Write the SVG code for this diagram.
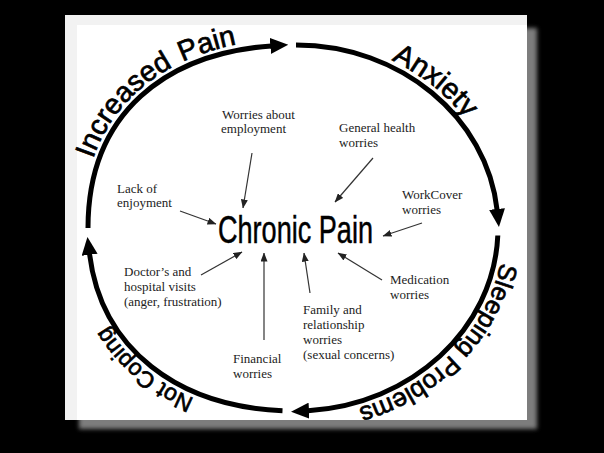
<svg xmlns="http://www.w3.org/2000/svg" width="604" height="453" viewBox="0 0 604 453">
<defs>
<style>
.lbl{font-family:"Liberation Serif","Times New Roman",serif;font-size:13px;fill:#222}
.cyc{font-family:"Liberation Sans",Arial,sans-serif;fill:#000;stroke:#000;stroke-width:0.7}
.big{fill:none;stroke:#000;stroke-width:5;marker-end:url(#bigHead)}
.thin{fill:none;stroke:#333;stroke-width:1.2;marker-end:url(#smallHead)}
</style>
<filter id="sh" x="-5%" y="-5%" width="110%" height="110%"><feGaussianBlur stdDeviation="2"/></filter>
<marker id="bigHead" viewBox="0 0 18 16" markerWidth="18" markerHeight="16" refX="1" refY="8" orient="auto" markerUnits="userSpaceOnUse"><path d="M0,0 L18,8 L0,16 Z" fill="#000"/></marker>
<marker id="smallHead" viewBox="0 0 9 7" markerWidth="9" markerHeight="7" refX="8.5" refY="3.5" orient="auto" markerUnits="userSpaceOnUse"><path d="M0,0 L9,3.5 L0,7 Z" fill="#222"/></marker>
<path id="ring" d="M82,228 C82,100 178,39 295,39 C410.4,39 504,123.6 504,228 C504,332.4 410.4,417 295,417 C172,417 82,347 82,228 Z"/>
</defs>
<rect width="604" height="453" fill="#000"/>
<rect x="79" y="28" width="458" height="401" fill="#7d7d7d" filter="url(#sh)"/>
<rect x="65" y="15" width="462" height="405" fill="#f2f2f2"/>
<rect x="77" y="25" width="450" height="395" fill="#fff"/>

<g id="connectors">
<path class="big" d="M88,228 C88,111.75 167.6,53.5 271.3,45.9"/>
<path class="big" d="M296,45 C400.4,45 487,117.4 497.1,210"/>
<path class="big" d="M497.8,235.5 C493.6,329.2 411.3,404.8 308,410.7"/>
<path class="big" d="M282.5,410.7 C178.2,406.6 101.2,349.4 89.5,253.8"/>
<path class="thin" d="M252,153 L243,208"/>
<path class="thin" d="M180,211 L216,224"/>
<path class="thin" d="M373,158 L335,202"/>
<path class="thin" d="M422,223 L383,236"/>
<path class="thin" d="M201,275 L242,252"/>
<path class="thin" d="M264,340 L264,253"/>
<path class="thin" d="M310,293 L304,253"/>
<path class="thin" d="M382,280 L338,253"/>
</g>

<g id="increased-pain">
<text class="cyc" font-size="28.5"><textPath href="#ring" startOffset="70">Increased</textPath></text>
<text class="cyc" font-size="28.5"><textPath href="#ring" startOffset="206">Pain</textPath></text>
</g>
<g id="anxiety"><text class="cyc" font-size="29"><textPath href="#ring" startOffset="421">Anxiety</textPath></text></g>
<g id="sleeping-problems">
<text class="cyc" font-size="25.5"><textPath href="#ring" startOffset="669">Sleeping</textPath></text>
<text class="cyc" font-size="25.5"><textPath href="#ring" startOffset="775">Problems</textPath></text>
</g>
<g id="not-coping"><text class="cyc" font-size="23"><textPath href="#ring" startOffset="1050">Not Coping</textPath></text></g>

<g id="chronic-pain"><text x="218" y="243" font-family="Liberation Sans, Arial, sans-serif" font-size="39" fill="#000" stroke="#000" stroke-width="0.5" textLength="155" lengthAdjust="spacingAndGlyphs">Chronic Pain</text></g>

<g id="employment"><text class="lbl" x="222" y="119">Worries about</text><text class="lbl" x="221" y="133">employment</text></g>
<g id="enjoyment"><text class="lbl" x="117" y="193">Lack of</text><text class="lbl" x="117" y="207">enjoyment</text></g>
<g id="general-health"><text class="lbl" x="339" y="132">General health</text><text class="lbl" x="339" y="147">worries</text></g>
<g id="workcover"><text class="lbl" x="402" y="199">WorkCover</text><text class="lbl" x="402" y="214">worries</text></g>
<g id="doctors"><text class="lbl" x="124" y="276">Doctor’s and</text><text class="lbl" x="124" y="291">hospital visits</text><text class="lbl" x="124" y="306">(anger, frustration)</text></g>
<g id="financial"><text class="lbl" x="233" y="363">Financial</text><text class="lbl" x="233" y="378">worries</text></g>
<g id="family"><text class="lbl" x="303" y="314">Family and</text><text class="lbl" x="303" y="329">relationship</text><text class="lbl" x="303" y="344">worries</text><text class="lbl" x="303" y="359">(sexual concerns)</text></g>
<g id="medication"><text class="lbl" x="390" y="284">Medication</text><text class="lbl" x="390" y="299">worries</text></g>
</svg>
